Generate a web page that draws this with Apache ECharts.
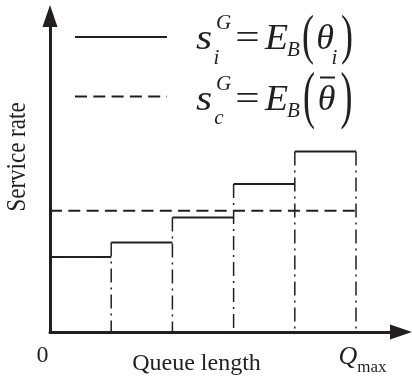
<!DOCTYPE html>
<html>
<head>
<meta charset="utf-8">
<script src="https://cdn.jsdelivr.net/npm/echarts@6/dist/echarts.min.js"></script>
<style>
html,body{margin:0;padding:0;background:#fff;}
#chart{width:412px;height:380px;}
</style>
</head>
<body>
<div id="chart"></div>
<script>
// ---- data ----
const categories = ['1', '2', '3', '4', '5'];          // queue-length segments
const stepValues = [23.7, 28.3, 36.2, 46.8, 57.1];      // s_i^G per segment
const meanValue = 38.4;                                 // s_c^G
const xTickLabels = ['0', 'Q', 'max'];
const axisNames = ['Queue length', 'Service rate'];

const C = '#231f20';
const FONT = '"Liberation Serif", "Times New Roman", serif';

// build series data from the arrays
const stepData = [];
categories.forEach((c, i) => {
  stepData.push([i, stepValues[i]], [i + 1, stepValues[i]], [i + 1, '-']);
});
const meanData = [[0, meanValue], [categories.length, meanValue]];
const vertData = categories.map((c, i) => [i + 1, Math.max(stepValues[i], i + 1 < stepValues.length ? stepValues[i + 1] : 0)]);

function txt(text, cx, cy, size, italic, sx, sy) {
  return {
    type: 'text', x: cx, y: cy, silent: true,
    scaleX: sx || 1, scaleY: sy || 1,
    style: {
      text: text, fontSize: size, fontFamily: FONT,
      fontStyle: italic ? 'italic' : 'normal',
      align: 'center', verticalAlign: 'middle', fill: C
    }
  };
}

const chart = echarts.init(document.getElementById('chart'), null, {renderer: 'canvas'});
chart.setOption({
  animation: false,
  backgroundColor: '#fff',
  grid: {left: 50, right: 11, top: 16, bottom: 48, containLabel: false},
  legend: {
    orient: 'vertical', left: 74, top: 30, padding: 0,
    itemWidth: 92, itemHeight: 14, itemGap: 47,
    data: ['si', 'sc'],
    formatter: () => '',
    selectedMode: false,
    itemStyle: {color: 'rgba(0,0,0,0)', borderWidth: 0, opacity: 0},
    textStyle: {fontSize: 1}
  },
  xAxis: {
    type: 'value', min: 0, max: 5.735, interval: 5,
    axisLine: {show: true, symbol: ['none', 'triangle'], symbolSize: [15, 22], lineStyle: {color: C, width: 3}},
    axisTick: {show: false}, splitLine: {show: false},
    axisLabel: {
      margin: 12, color: C,
      formatter: v => v === 0 ? '{z|' + xTickLabels[0] + '}' : (v === 5 ? '{q|' + xTickLabels[1] + '}{m|' + xTickLabels[2] + '}' : ''),
      rich: {
        z: {fontSize: 24, fontFamily: FONT, color: C, lineHeight: 24, padding: [0, 15, 0, 0]},
        q: {fontSize: 26, fontFamily: FONT, fontStyle: 'italic', color: C, lineHeight: 26, verticalAlign: 'top', padding: [0, 0, 0, 13]},
        m: {fontSize: 17, fontFamily: FONT, color: C, lineHeight: 17, verticalAlign: 'top', padding: [15, 0, 0, 0]}
      }
    }
  },
  yAxis: {
    type: 'value', min: 0, max: 100,
    axisLine: {show: true, symbol: ['none', 'triangle'], symbolSize: [15, 22], lineStyle: {color: C, width: 3}},
    axisTick: {show: false}, splitLine: {show: false}, axisLabel: {show: false}
  },
  series: [
    {
      name: 'si', type: 'line', data: stepData, showSymbol: false, symbol: 'none',
      connectNulls: false, lineStyle: {color: C, width: 2}, itemStyle: {color: C}, silent: true, z: 3
    },
    {
      name: 'sc', type: 'line', data: meanData, showSymbol: false, symbol: 'none',
      lineStyle: {color: C, width: 2, type: [12, 6.3]}, itemStyle: {color: C}, silent: true, z: 3
    },
    {
      name: 'bounds', type: 'custom', data: vertData, silent: true, z: 2,
      renderItem: function (params, api) {
        const top = api.coord([api.value(0), api.value(1)]);
        const bot = api.coord([api.value(0), 0]);
        return {
          type: 'line',
          shape: {x1: top[0], y1: top[1], x2: bot[0], y2: bot[1]},
          style: {stroke: C, lineWidth: 1.5, lineDash: [14, 5, 2, 5], fill: null}
        };
      }
    }
  ],
  graphic: [
    // axis names
    txt(axisNames[0], 196.5, 364, 24, false),
    Object.assign(txt(axisNames[1], 18, 157, 23, false, 1, 1.15), {rotation: Math.PI / 2}),
    // legend formula 1: s_i^G = E_B(θ_i)
    txt('s', 204, 39.5, 36, true, 1.15),
    txt('G', 223.5, 23, 21, true),
    txt('i', 216.5, 58, 21, true),
    txt('=', 247.5, 39.5, 36, false, 1.2),
    txt('E', 276.5, 39.5, 36, true, 1.05),
    txt('B', 293.5, 50, 21, true),
    txt('(', 308, 38.5, 36, false, 1, 1.5),
    txt('θ', 325, 39.5, 36, true),
    txt('i', 334.5, 58, 21, true),
    txt(')', 347, 38.5, 36, false, 1, 1.5),
    // legend formula 2: s_c^G = E_B(θ̄)
    txt('s', 204, 100.5, 36, true, 1.15),
    txt('G', 223.5, 84, 21, true),
    txt('c', 219, 118, 21, true),
    txt('=', 247.5, 100.5, 36, false, 1.2),
    txt('E', 276.5, 100.5, 36, true, 1.05),
    txt('B', 293.5, 111, 21, true),
    txt('(', 309, 99, 36, false, 1, 1.75),
    txt('θ', 326.5, 100.5, 36, true),
    {type: 'rect', silent: true, shape: {x: 320, y: 76.5, width: 15, height: 2}, style: {fill: C}},
    txt(')', 346.5, 99, 36, false, 1, 1.75)
  ]
});
</script>
</body>
</html>
